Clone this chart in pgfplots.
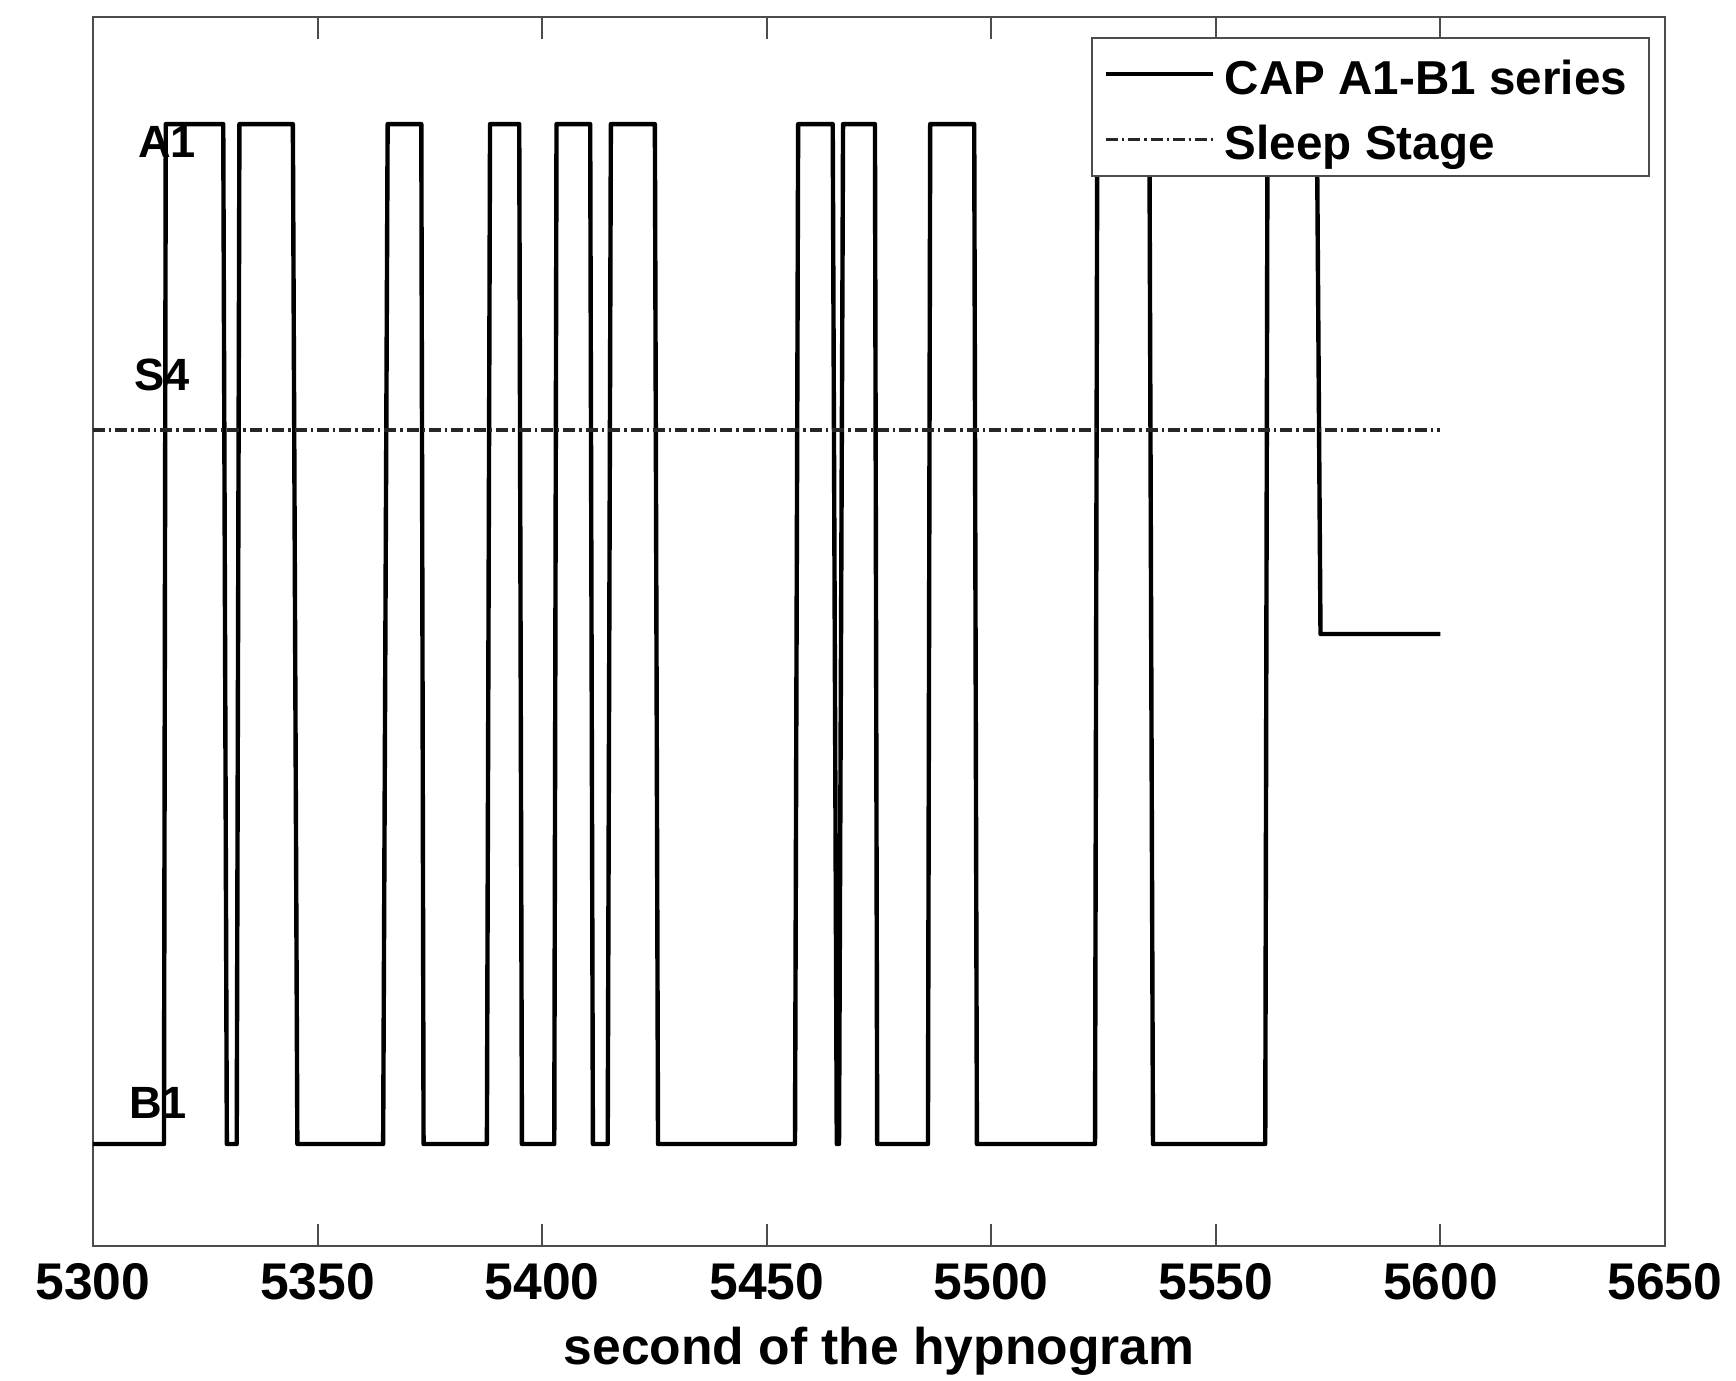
\documentclass[border=0pt]{standalone}
\usepackage{fontspec}
\setmainfont{Liberation Sans}
\usepackage{pgfplots}
\pgfplotsset{compat=1.18}
\begin{document}
\begin{tikzpicture}
\begin{axis}[
  scale only axis, width=393pt, height=307.25pt,
  xmin=5300, xmax=5650, ymin=-0.1, ymax=1.105,
  xtick={5300,5350,5400,5450,5500,5550,5600,5650},
  ytick=\empty,
  scaled x ticks=false,
  /pgf/number format/1000 sep={},
  /pgf/number format/assume math mode=true,
  major tick length=5.5pt,
  tick style={black!70, line width=0.5pt},
  axis line style={black!70, line width=0.6pt},
  xticklabel style={font=\fontsize{12.9}{15}\selectfont\bfseries, yshift=-0.8pt},
  xlabel={second of the hypnogram},
  xlabel style={font=\fontsize{12.9}{15}\selectfont\bfseries, at={(axis description cs:0.5,0)}, anchor=center, yshift=-26.3pt},
  legend style={at={(0.9905,0.9835)}, anchor=north east, draw=black!70, line width=0.5pt, fill=white,
    font=\fontsize{11.9}{14}\selectfont\bfseries, inner xsep=3pt, inner ysep=1.5pt, row sep=1.4pt,
    nodes={inner sep=2.5pt, text height=10pt, text depth=0pt}},
  legend cell align=left,
  legend image code/.code={\draw[#1] (0pt,0pt) -- (26.75pt,0pt);},
]
\addplot[black, line width=1.1pt, line join=round] coordinates {
(5300,0) (5315.8,0) (5316.2,1) (5329,1) (5329.8,0) (5332,0) (5332.6,1) (5344.5,1) (5345.5,0) (5364.6,0)
(5365.6,1) (5373.1,1) (5373.6,0) (5387.7,0) (5388.4,1) (5394.9,1) (5395.5,0) (5402.7,0) (5403.2,1) (5410.7,1)
(5411.3,0) (5414.6,0) (5415.3,1) (5425.1,1) (5425.8,0) (5456.3,0) (5457,1) (5464.7,1) (5465.6,0) (5466.1,0)
(5467,1) (5474.1,1) (5474.6,0) (5485.9,0) (5486.4,1) (5496.2,1) (5496.8,0) (5523.1,0) (5523.6,1) (5535.2,1)
(5536,0) (5561,0) (5561.5,1) (5572.5,1) (5573.3,0.5) (5600,0.5)
};
\addlegendentry{CAP A1-B1 series}
\addplot[black!85, line width=0.8pt, dash pattern=on 3pt off 1pt on 0.6pt off 1pt] coordinates {
(5300,0.7) (5600,0.7)
};
\addlegendentry{Sleep Stage}
\node[font=\fontsize{11.3}{13}\selectfont\bfseries] at (axis cs:5316.5,0.982) {A1};
\node[font=\fontsize{11.3}{13}\selectfont\bfseries] at (axis cs:5315.3,0.754) {S4};
\node[font=\fontsize{11.3}{13}\selectfont\bfseries] at (axis cs:5314.5,0.040) {B1};
\end{axis}
\pgfresetboundingbox
\path (-23.25pt,-33.75pt) rectangle (410.75pt,311.5pt);
\end{tikzpicture}
\end{document}
